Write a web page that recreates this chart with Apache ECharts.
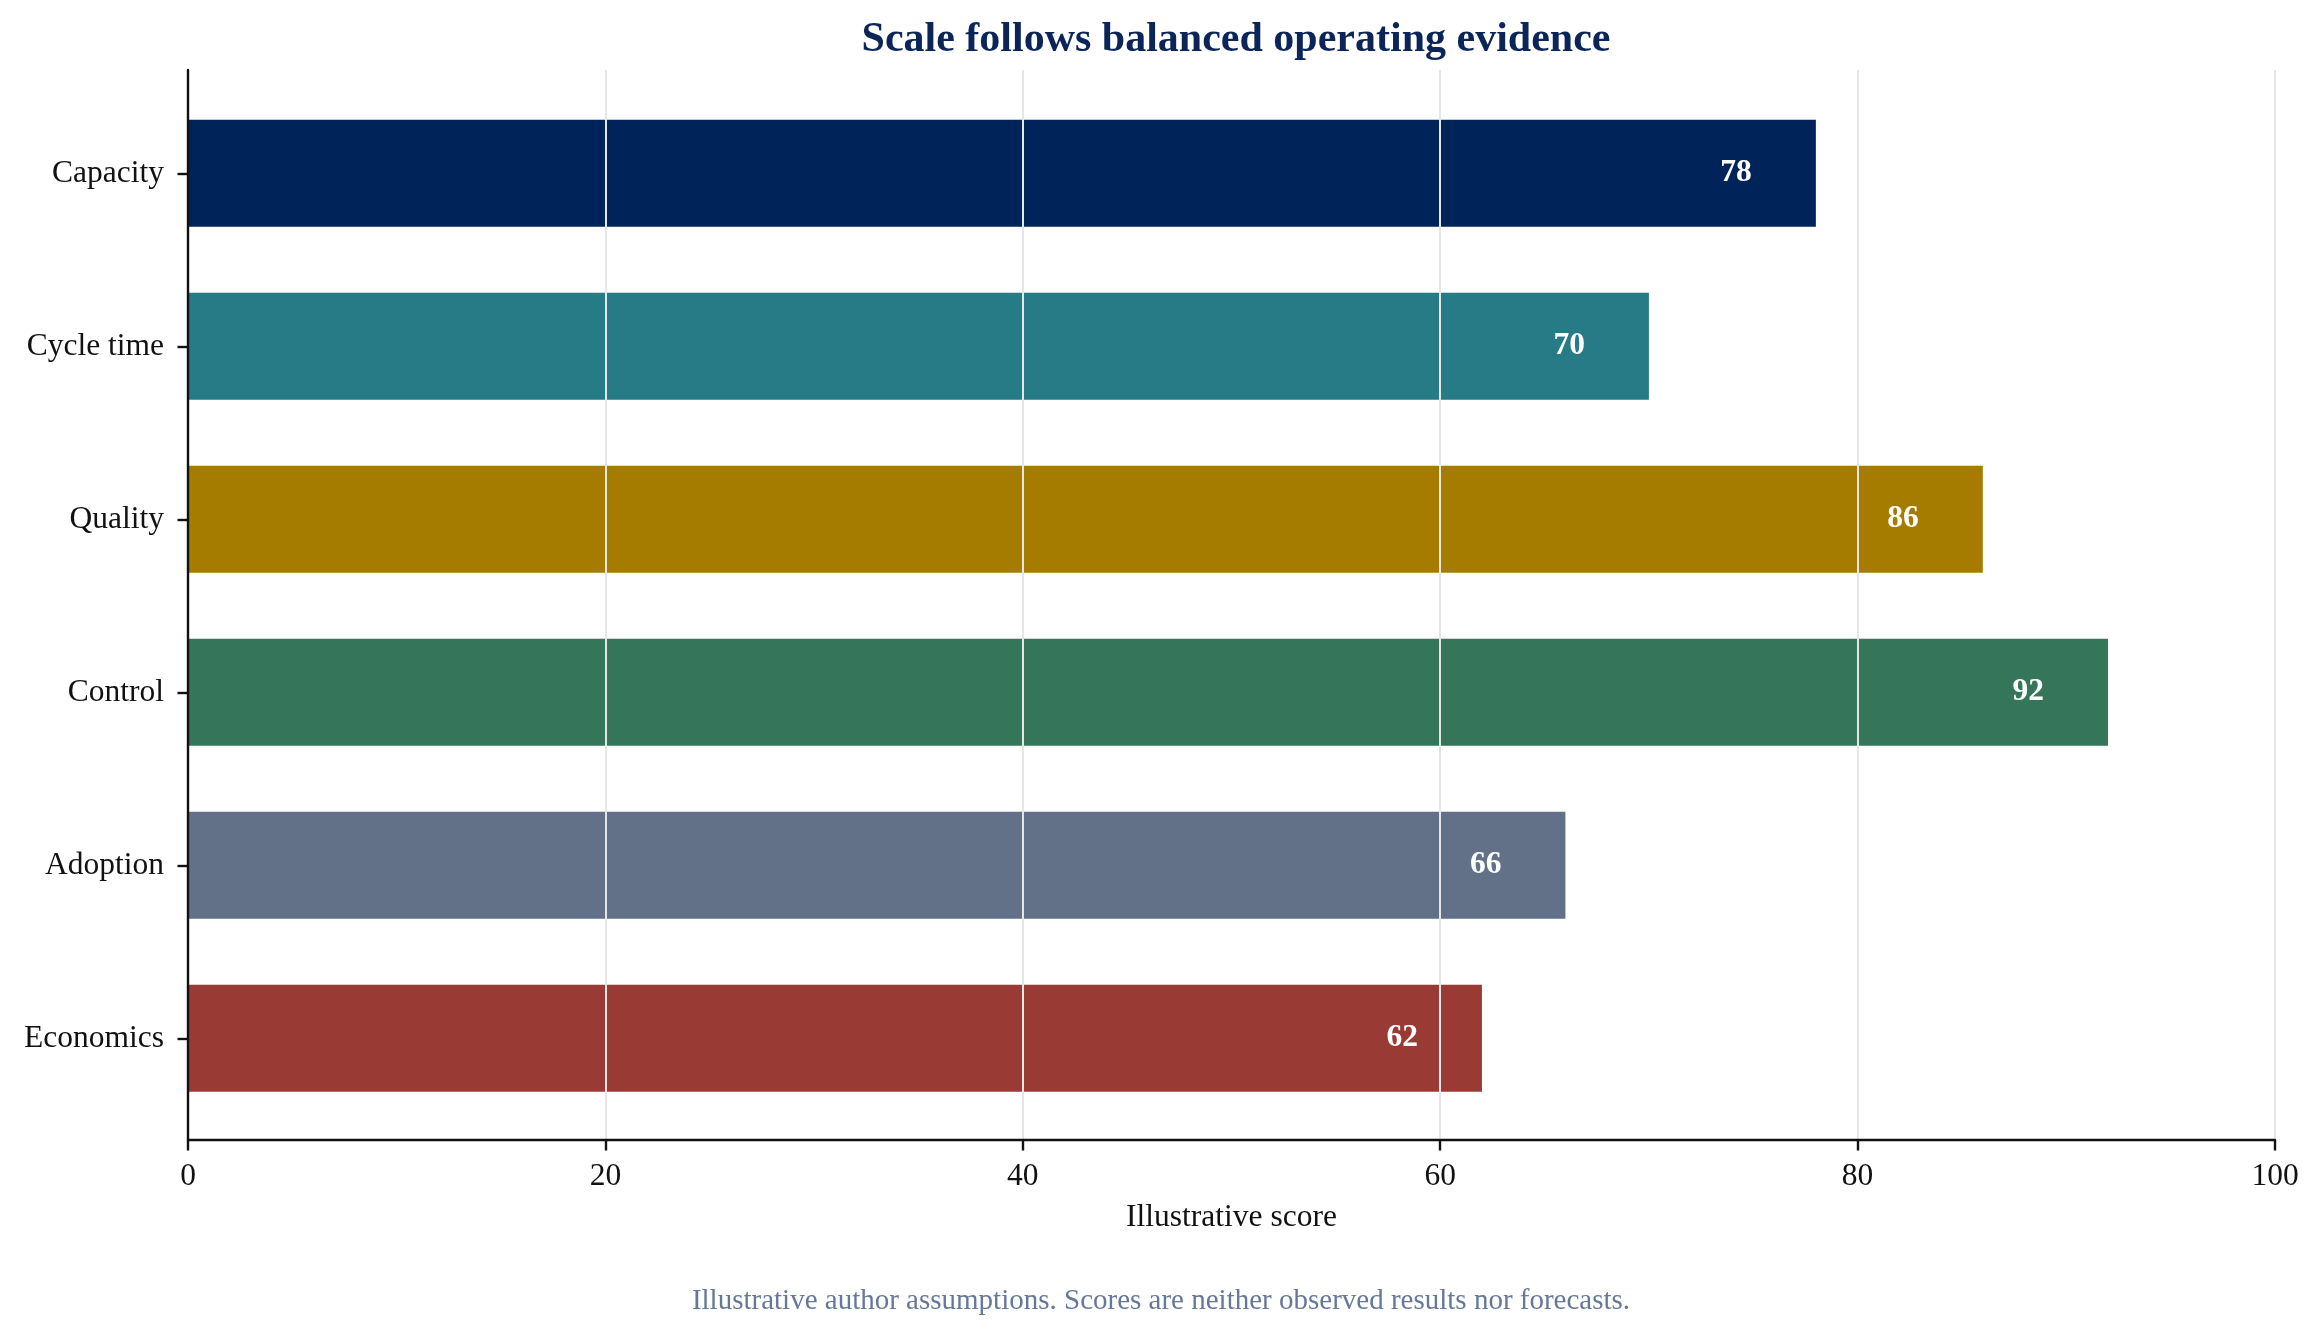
<!DOCTYPE html>
<html>
<head>
<meta charset="utf-8">
<script src="https://cdn.jsdelivr.net/npm/echarts@6/dist/echarts.min.js"></script>
<style>
  html, body { margin: 0; padding: 0; background: #fff; }
  #main { width: 2322px; height: 1339px; }
</style>
</head>
<body>
<div id="main"></div>
<script>
const categories = ['Capacity', 'Cycle time', 'Quality', 'Control', 'Adoption', 'Economics'];
const scores = [78, 70, 86, 92, 66, 62];
const barColors = ['#00235A', '#277B86', '#A67C00', '#35765A', '#627088', '#9A3A35'];
const xTicks = [0, 20, 40, 60, 80, 100];

const serif = '"Liberation Serif", "Times New Roman", serif';
const myChart = echarts.init(document.getElementById('main'));

myChart.setOption({
  animation: false,
  backgroundColor: '#ffffff',
  textStyle: { fontFamily: serif },
  title: [
    {
      text: 'Scale follows balanced operating evidence',
      left: 1231,
      top: 14,
      textAlign: 'center',
      textStyle: { fontFamily: serif, fontSize: 42, fontWeight: 'bold', color: '#0B2559' },
    },
    {
      text: 'Illustrative author assumptions. Scores are neither observed results nor forecasts.',
      left: 'center',
      top: 1282,
      textStyle: { fontFamily: serif, fontSize: 29, fontWeight: 'normal', color: '#66789A' },
    },
  ],
  grid: [
    // bars: category bands sit inside the padded frame
    { left: 188, right: 47, top: 86.8, bottom: 214.2 },
    // frame: spines, x ticks and grid lines
    { left: 188, right: 47, top: 70, bottom: 199 },
  ],
  xAxis: [
    { gridIndex: 0, type: 'value', min: 0, max: 100, show: false },
    {
      gridIndex: 1,
      type: 'value',
      min: 0,
      max: 100,
      interval: 20,
      z: 5,
      name: 'Illustrative score',
      nameLocation: 'middle',
      nameGap: 62,
      nameTextStyle: { fontFamily: serif, fontSize: 31.5, color: '#111' },
      axisLine: { show: true, lineStyle: { color: '#111', width: 2.4 } },
      axisTick: { show: true, length: 10.5, lineStyle: { color: '#111', width: 2.4 } },
      axisLabel: {
        margin: 21,
        fontFamily: serif,
        fontSize: 31.5,
        color: '#111',
        formatter: (v) => (xTicks.includes(v) ? String(v) : ''),
      },
      splitLine: { show: true, lineStyle: { color: '#E6E6E6', width: 2 } },
    },
  ],
  yAxis: [
    {
      gridIndex: 0,
      type: 'category',
      inverse: true,
      data: categories,
      axisLine: { show: false },
      axisTick: { show: true, alignWithLabel: true, length: 10.5, lineStyle: { color: '#111', width: 2.4 } },
      axisLabel: { margin: 24, fontFamily: serif, fontSize: 31.5, color: '#111' },
      splitLine: { show: false },
    },
    {
      gridIndex: 1,
      type: 'value',
      min: 0,
      max: 1,
      z: 5,
      axisLine: { show: true, lineStyle: { color: '#111', width: 2.4 } },
      axisTick: { show: false },
      axisLabel: { show: false },
      splitLine: { show: false },
    },
  ],
  series: [
    {
      type: 'bar',
      xAxisIndex: 0,
      yAxisIndex: 0,
      barWidth: 107,
      data: scores.map((v, i) => ({ value: v, itemStyle: { color: barColors[i] } })),
      label: {
        show: true,
        position: 'insideRight',
        distance: 64,
        fontFamily: serif,
        fontSize: 31.5,
        fontWeight: 'bold',
        color: '#ffffff',
      },
    },
  ],
});
</script>
</body>
</html>
